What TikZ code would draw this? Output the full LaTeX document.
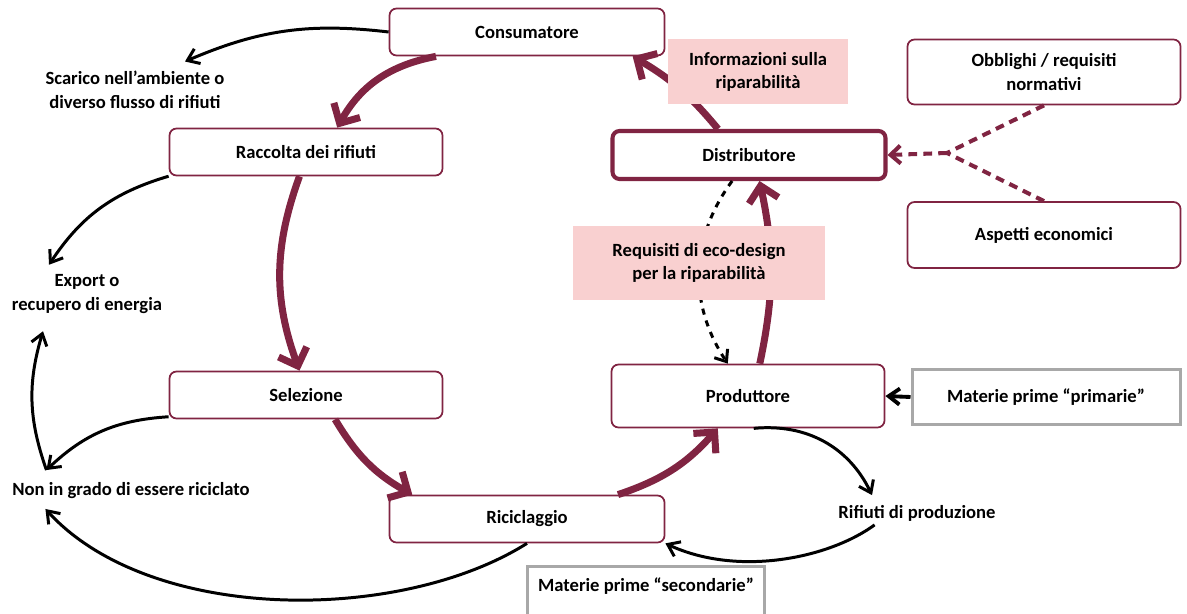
\documentclass[tikz,border=0pt]{standalone}
\usepackage{fontspec}
\setmainfont{Carlito}
\usetikzlibrary{arrows.meta,calc}
\definecolor{bordeaux}{RGB}{128,36,66}
\definecolor{rosa}{RGB}{249,208,208}
\definecolor{grigio}{RGB}{168,168,168}

\begin{document}
\begin{tikzpicture}[x=0.2mm,y=-0.2mm,font=\fontsize{10.6}{13.4}\selectfont\bfseries,
		fase/.style={draw=bordeaux,line width=1pt,rounded corners=4pt,fill=white,minimum width=54.6mm,minimum height=9.4mm,align=center},
		nota/.style={fill=rosa,align=center},
		esterno/.style={draw=grigio,line width=1.7pt,fill=white,align=center},
		etichetta/.style={align=center,inner sep=2pt},
		ciclo/.style={draw=bordeaux,line width=4pt,-{Straight Barb[length=3mm,width=6mm]}},
		flusso/.style={line width=1.7pt,-{Straight Barb[length=2.2mm,width=3.2mm]}},
		tratteggio/.style={draw=bordeaux,line width=2.3pt,dash pattern=on 5pt off 3.5pt}]
			\useasboundingbox (0,0) rectangle (1187,613); % same window as the figure
			\clip (0,0) rectangle (1187,613);
			% the stages of the cycle
			\node[fase,minimum width=55mm] (cons) at (527,32) {Consumatore};
			\node[fase] (racc) at (306,152) {Raccolta dei rifiuti};
			\node[fase] (sel) at (306,395) {Selezione};
			\node[fase,minimum width=55mm] (rici) at (527,519) {Riciclaggio};
			\node[fase,minimum height=12.6mm] (prod) at (748,396) {Produttore};
			\node[fase,line width=2.3pt,minimum height=9.6mm] (dist) at (749,155) {Distributore};
			% drivers on the right
			\node[fase,minimum height=13mm] (obbl) at (1044,72) {Obblighi / requisiti\\normativi};
			\node[fase,minimum height=13.2mm] (asp) at (1044,235) {Aspetti economici};
			% raw materials
			\node[esterno,minimum width=53.6mm,minimum height=11mm] (prim) at (1046,397) {Materie prime “primarie”};
			\node[esterno,anchor=north,minimum width=47.4mm,text height=11pt,text depth=24pt] (sec) at (646,565) {Materie prime “secondarie”};
			% loose ends
			\node[etichetta] (scar) at (135,90) {Scarico nell’ambiente o\\diverso flusso di rifiuti};
			\node[etichetta] (exp) at (87,294) {Export o\\recupero di energia};
			\node[etichetta] (non) at (131,491) {Non in grado di essere riciclato};
			\node[etichetta] (rif) at (917,513) {Rifiuti di produzione};
			\coordinate (nonsu) at ($(non.north west)+(38,-9)$);
			\coordinate (incrocio) at (947,153);
			% the main loop
			\draw[ciclo] (cons.195) to[bend right=25] (racc.38);
			\draw[ciclo] (racc.255) to[bend right=20] (sel.105);
			\draw[ciclo] (sel.320) to[bend right=15] (rici.168);
			\draw[ciclo] (rici.15) to[bend right=15] (prod.227);
			\draw[ciclo] (prod.70) to[bend right=12] (dist.292);
			\draw[ciclo] (dist.140) to[bend right=10] (cons.347);
			% flows out of the loop
			\draw[flusso] (cons.west) to[bend right=15] ($(scar.north)+(50,-6)$);
			\draw[flusso] (racc.190) to[bend right=20] ($(exp.north)+(-38,-6)$);
			\draw[flusso] (sel.189) to[bend right=20] (nonsu);
			\draw[flusso] (nonsu) to[bend left=18] ($(exp.south)+(-44,14)$);
			\draw[flusso] (rici.south) .. controls +(-127,80) and +(105,115) .. ($(non.south west)+(37,6)$);
			\draw[flusso] (prod.280) to[bend left=35] ($(rif.north)+(-45,-6)$);
			\draw[flusso] ($(rif.south west)+(40,0)$) .. controls +(-45,33) and +(73,34) .. (rici.south east);
			\draw[flusso,line width=2.2pt] (prim.west) -- (prod.east);
			% what pushes the distributor
			\draw[tratteggio] (obbl.south) -- (incrocio);
			\draw[tratteggio] (asp.north) -- (incrocio);
			\draw[tratteggio,-{Straight Barb[length=2mm,width=3.6mm]}] (incrocio) -- (dist.east);
			\draw[line width=1.7pt,dash pattern=on 3.5pt off 3.5pt,-{Straight Barb[length=2mm,width=3.2mm]}] (dist.237) to[bend right=35] (prod.122);
			% the two notes lie over the arrows
			\node[nota,minimum width=36mm,minimum height=13mm] (info) at (758,72) {Informazioni sulla\\riparabilità};
			\node[nota,minimum width=50.4mm,minimum height=14.8mm] (req) at (699,263) {Requisiti di eco-design\\per la riparabilità};
		\end{tikzpicture}
\end{document}
